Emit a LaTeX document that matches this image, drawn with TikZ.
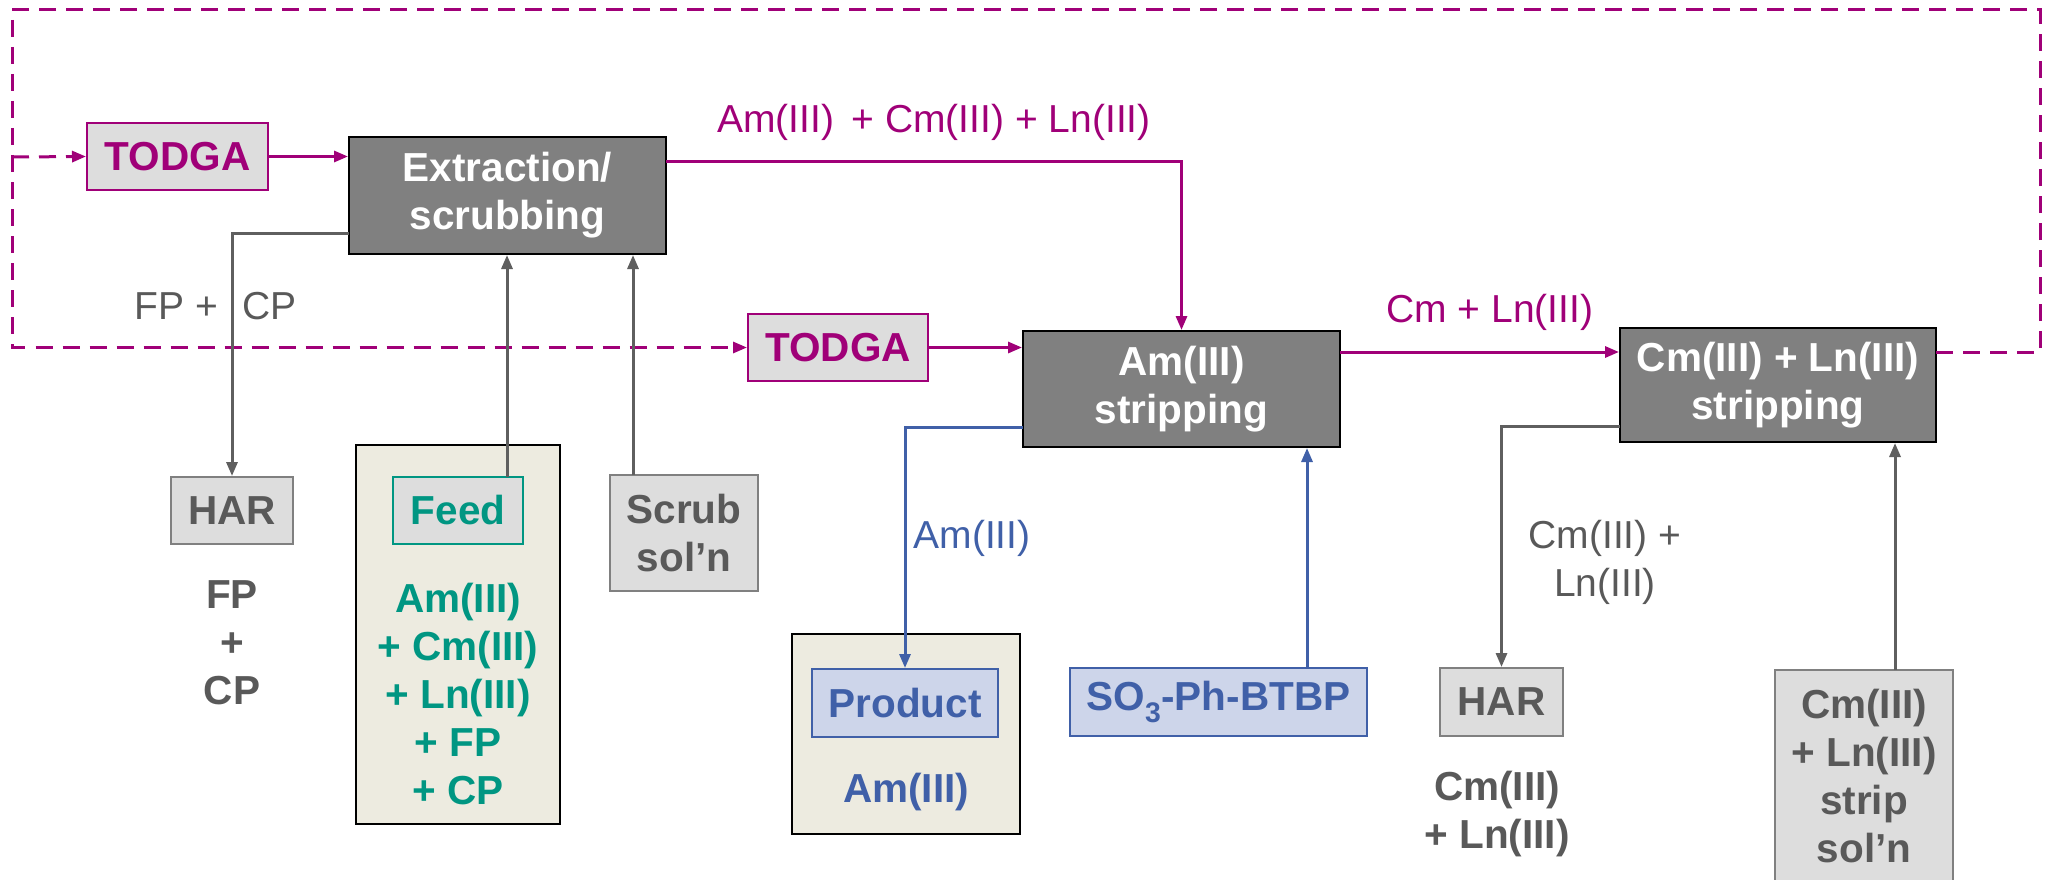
\documentclass[tikz,border=0pt]{standalone}
\usepackage{fontspec}
\setmainfont{Liberation Sans}
\usetikzlibrary{arrows.meta}
\newcommand\bfs{\fontsize{40.5}{48}\selectfont\bfseries}
\newcommand\rfs{\fontsize{39}{48}\selectfont}
\definecolor{mag}{RGB}{160,0,120}
\definecolor{dgray}{RGB}{89,89,89}
\definecolor{boxgray}{RGB}{128,128,128}
\definecolor{lgray}{RGB}{221,221,221}
\definecolor{bordg}{RGB}{128,128,128}
\definecolor{tealc}{RGB}{0,150,130}
\definecolor{bluec}{RGB}{64,96,168}
\definecolor{lblue}{RGB}{205,213,234}
\definecolor{beige}{RGB}{237,235,224}
\definecolor{lineg}{RGB}{95,95,95}
\begin{document}
\begin{tikzpicture}[x=1pt,y=-1pt,
  proc/.style={draw=black, line width=2pt, fill=boxgray, text=white, font=\bfs, align=center, inner sep=0pt},
  todga/.style={draw=mag, line width=2pt, fill=lgray, text=mag, font=\bfs, align=center, inner sep=0pt},
  grbox/.style={draw=bordg, line width=2pt, fill=lgray, text=dgray, font=\bfs, align=center, inner sep=0pt},
  fbox/.style={draw=tealc, line width=2pt, fill=lgray, text=tealc, font=\bfs, align=center, inner sep=0pt},
  bbox/.style={draw=bluec, line width=2pt, fill=lblue, text=bluec, font=\bfs, align=center, inner sep=0pt},
  outbox/.style={draw=black, line width=2pt, fill=beige, inner sep=0pt},
  lab/.style={font=\rfs, align=center, inner sep=0pt},
  arr/.style={-{Triangle[length=14pt,width=11pt]}},
  mline/.style={draw=mag, line width=3pt},
  mdash/.style={draw=mag, line width=3pt, dash pattern=on 17pt off 10pt},
  gline/.style={draw=lineg, line width=3pt},
  bline/.style={draw=bluec, line width=3pt}
]
\useasboundingbox (0,0) rectangle (2049,880);
\clip (0,0) rectangle (2049,880);
\fill[white] (0,0) rectangle (2049,880);

% boxes
\node[todga, minimum width=181pt, minimum height=67pt] (todgaA) at (177.5,156.5) {TODGA};
\node[proc, minimum width=317pt, minimum height=117pt] (extr) at (507.5,195.5) {Extraction/\\scrubbing};
\node[todga, minimum width=180pt, minimum height=67pt] (todgaB) at (838,347.5) {TODGA};
\node[proc, minimum width=317pt, minimum height=116pt] (amstrip) at (1181.5,389) {Am(III)\\stripping};
\node[proc, minimum width=316pt, minimum height=114pt] (cmstrip) at (1778,385) {Cm(III) + Ln(III)\\stripping};
\node[grbox, minimum width=122pt, minimum height=67pt] (har1) at (232,510.5) {HAR};
\node[outbox, minimum width=204pt, minimum height=379pt] (feedbg) at (458,634.5) {};
\node[fbox, minimum width=130pt, minimum height=67pt] (feed) at (458,510.5) {Feed};
\node[grbox, minimum width=148pt, minimum height=116pt] (scrub) at (684,533) {Scrub\\sol’n};
\node[outbox, minimum width=228pt, minimum height=200pt] (prodbg) at (906,734) {};
\node[bbox, minimum width=186pt, minimum height=68pt] (product) at (905,703) {Product};
\node[bbox, minimum width=297pt, minimum height=68pt] (so3) at (1218.5,702) {SO\textsubscript{3}-Ph-BTBP};
\node[grbox, minimum width=123pt, minimum height=68pt] (har2) at (1501.5,702) {HAR};
\node[grbox, minimum width=178pt, minimum height=240pt] (stripsol) at (1864,790) {};
\node[lab, text=dgray, font=\bfs] (stripsolt) at (1864,776) {Cm(III)\\+ Ln(III)\\strip\\sol’n};

% labels
\node[lab, text=mag] (lbl1) at (934,122) {Am(III) \,+ Cm(III) + Ln(III)};
\node[lab, text=mag] (lbl2) at (1490,312) {Cm + Ln(III)};
\node[lab, text=dgray] (lbl3) at (215.5,306) {FP +\hspace{24pt}CP};
\node[lab, text=bluec] (lbl4) at (972,538) {Am(III)};
\node[lab, text=dgray] (lbl5) at (1605,562) {Cm(III) +\\Ln(III)};
\node[lab, text=dgray, font=\bfs] (har1t) at (232,643) {FP\\+\\CP};
\node[lab, text=tealc, font=\bfs] (feedt) at (458,694) {Am(III)\\+ Cm(III)\\+ Ln(III)\\+ FP\\+ CP};
\node[lab, text=bluec, font=\bfs] (prodt) at (906,792) {Am(III)};
\node[lab, text=dgray, font=\bfs] (har2t) at (1497,814) {Cm(III)\\+ Ln(III)};

% coordinates
\coordinate (e1) at (666,161);
\coordinate (a1) at (1340,352);
\coordinate (c1) at (1936,352);
\coordinate (rb) at (2040,352);
\coordinate (rt) at (2040,10);
\coordinate (lt) at (12,10);
\coordinate (lb) at (12,157);
\coordinate (g1) at (349,233);
\coordinate (f1) at (507,477);
\coordinate (s1) at (633,475);
\coordinate (b1) at (1023,427);
\coordinate (b2) at (1307,668);
\coordinate (g2) at (1620,426);
\coordinate (g3) at (1895,670);

% magenta
\draw[mline, arr] (todgaA.east) -- (todgaA.east -| extr.west);
\draw[mline, arr] (e1) -| (amstrip.north);
\draw[mline, arr] (todgaB.east) -- (todgaB.east -| amstrip.west);
\draw[mline, arr] (a1) -- (a1 -| cmstrip.west);
\draw[mdash, arr] (c1) -- (rb) -- (rt) -- (lt) |- (todgaB.west);
\draw[mdash, arr] (lb) -- (todgaA.west);

% grey
\draw[gline, arr] (g1) -| (har1.north);
\draw[gline, arr] (f1) -- (f1 |- extr.south);
\draw[gline, arr] (s1) -- (s1 |- extr.south);
\draw[gline, arr] (g2) -| (har2.north);
\draw[gline, arr] (g3) -- (g3 |- cmstrip.south);

% blue
\draw[bline, arr] (b1) -| (product.north);
\draw[bline, arr] (b2) -- (b2 |- amstrip.south);
\end{tikzpicture}
\end{document}
